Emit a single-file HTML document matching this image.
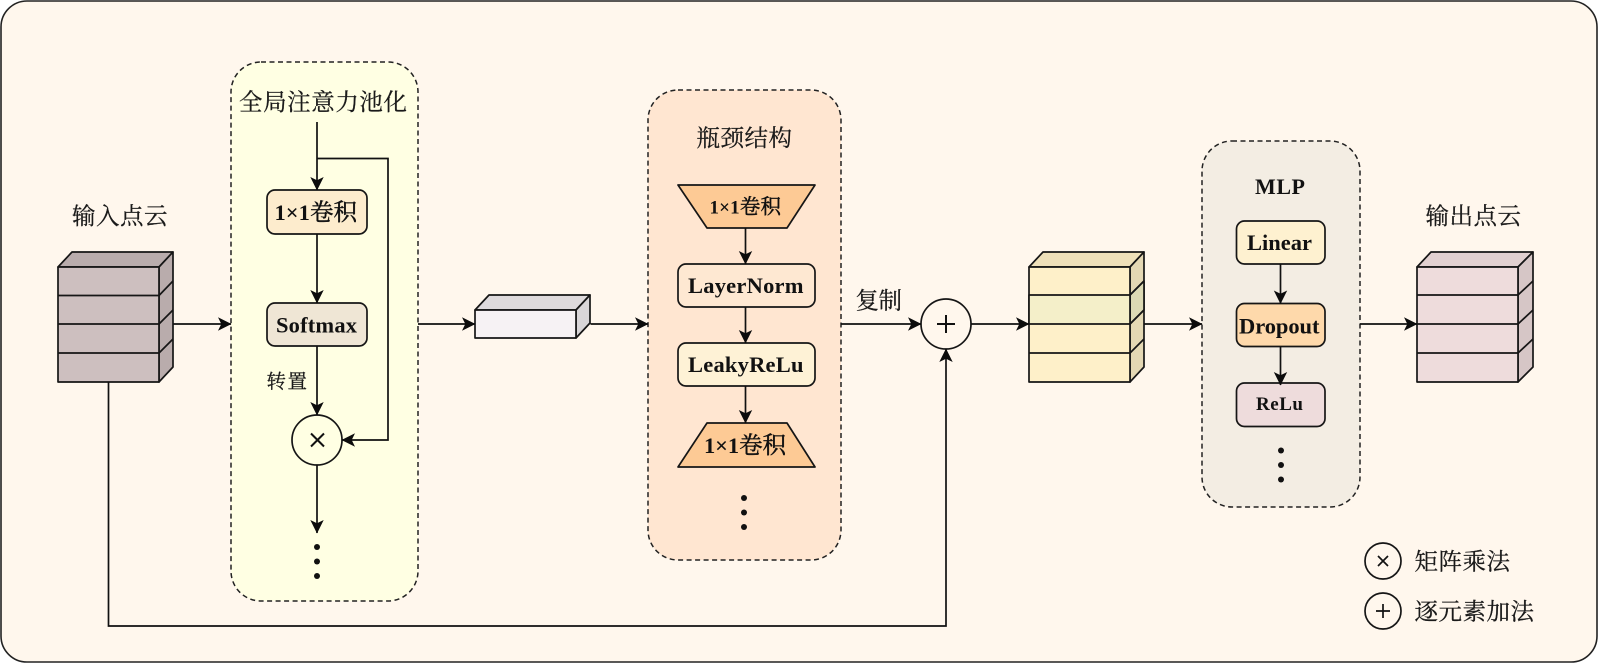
<!DOCTYPE html>
<html lang="zh">
<head>
<meta charset="utf-8">
<title>Diagram</title>
<style>
html,body{margin:0;padding:0;background:#fff;width:1598px;height:663px;overflow:hidden}
svg{display:block}
.l{fill:none;stroke:#111;stroke-width:1.7}
.a{fill:none;stroke:#111;stroke-width:1.7;marker-end:url(#ah)}
.s{stroke:#161616;stroke-width:1.7;stroke-linejoin:round}
.d{stroke:#222;stroke-width:1.5;stroke-dasharray:5 3.5}
.c{font-family:"Liberation Serif","Noto Serif CJK SC",serif;font-size:23.5px;fill:#1a1a1a;stroke:#1a1a1a;stroke-width:.25}
.b{font-family:"Liberation Serif","Noto Serif CJK SC",serif;font-size:22.5px;font-weight:bold;fill:#111}
.k{font-weight:normal;stroke:#111;stroke-width:.45;font-size:23.5px}
</style>
</head>
<body>
<svg width="1598" height="663" viewBox="0 0 1598 663" xmlns="http://www.w3.org/2000/svg">
<defs>
<marker id="ah" markerUnits="userSpaceOnUse" markerWidth="16" markerHeight="16" refX="14.500" refY="8" orient="auto">
<path d="M15,8 L1.500,1.300 L4.800,8 L1.500,14.700 Z" fill="#0c0c0c"/>
</marker>
</defs>

<rect x="1" y="1" width="1596" height="661" rx="26" fill="#fff7ed" stroke="#222" stroke-width="1.6"/>

<!-- dashed groups -->
<rect x="231" y="62" width="187" height="539" rx="30" fill="#ffffe3" class="d"/>
<rect x="648" y="90" width="193" height="470" rx="30" fill="#ffe6d1" class="d"/>
<rect x="1202" y="141" width="158" height="366" rx="30" fill="#f3ede3" class="d"/>

<!-- input cube -->
<g class="s">
<path d="M58,267 L72,252 L173,252 L159,267 Z" fill="#b9acac"/>
<path d="M159,267 L173,252 L173,367 L159,382 Z" fill="#b9acac"/>
<rect x="58" y="267" width="101" height="115" fill="#cdbfbf"/>
<path d="M58,295.500 H159 L173,281 M58,324 H159 L173,310 M58,353 H159 L173,339" fill="none"/>
</g>

<!-- small box -->
<g class="s">
<path d="M475,310 L489,295 L590,295 L576,310 Z" fill="#dedadc"/>
<path d="M576,310 L590,295 L590,323 L576,338 Z" fill="#d9d6d8"/>
<rect x="475" y="310" width="101" height="28" fill="#f6f2f4"/>
</g>

<!-- middle cube -->
<g class="s">
<path d="M1029,267 L1043,252 L1144,252 L1130,267 Z" fill="#eee0b9"/>
<path d="M1130,267 L1144,252 L1144,367 L1130,382 Z" fill="#e4d8b4"/>
<path d="M1130,295 L1144,281 L1144,310 L1130,324 Z" fill="#dcd9b4"/>
<rect x="1029" y="267" width="101" height="115" fill="#fef0c9"/>
<rect x="1029" y="295" width="101" height="29" fill="#f4efc9"/>
<path d="M1029,353 H1130 L1144,339 M1130,295 L1144,281 M1130,324 L1144,310" fill="none"/>
</g>

<!-- output cube -->
<g class="s">
<path d="M1417,267 L1431,252 L1533,252 L1518,267 Z" fill="#e1d0d0"/>
<path d="M1518,267 L1533,252 L1533,367 L1518,382 Z" fill="#d6c6c6"/>
<rect x="1417" y="267" width="101" height="115" fill="#eedcdc"/>
<path d="M1417,295 H1518 L1533,281 M1417,324 H1518 L1533,310 M1417,353 H1518 L1533,339" fill="none"/>
</g>

<!-- boxes -->
<g class="s">
<rect x="267" y="190" width="100" height="44" rx="8" fill="#fdeccd"/>
<rect x="267" y="303" width="100" height="43" rx="8" fill="#efe6d5"/>
<circle cx="317" cy="440" r="25" fill="#ffffe3"/>
<polygon points="678,185 815,185 787,228 707,228" fill="#fdca95"/>
<rect x="678" y="264" width="137" height="43" rx="8" fill="#fee8d2"/>
<rect x="678" y="343" width="137" height="43" rx="8" fill="#fef2d6"/>
<polygon points="707,423 787,423 815,467 678,467" fill="#fdca95"/>
<rect x="1236.500" y="221" width="88.500" height="43" rx="8" fill="#fef1d0"/>
<rect x="1236.500" y="303.500" width="88.500" height="43" rx="8" fill="#fed9ab"/>
<rect x="1236.500" y="383" width="88.500" height="43.500" rx="8" fill="#eedcdc"/>
<circle cx="946" cy="324" r="25" fill="#fff7ed"/>
<circle cx="1383" cy="561" r="18" fill="#fff7ed"/>
<circle cx="1383" cy="611" r="18" fill="#fff7ed"/>
</g>

<!-- operator glyphs -->
<path d="M311,433.500 L324,446.500 M324,433.500 L311,446.500" class="l" style="stroke-width:2"/>
<path d="M937,324 H955 M946,315 V333" class="l" style="stroke-width:2"/>
<path d="M1378,556 L1388,566 M1388,556 L1378,566" class="l"/>
<path d="M1376,611 H1390 M1383,604 V618" class="l"/>

<!-- connectors -->
<path d="M173.500,324 H231" class="a"/>
<path d="M418,324 H475" class="a"/>
<path d="M590.500,324 H648" class="a"/>
<path d="M841,324 H921" class="a"/>
<path d="M971,324 H1029" class="a"/>
<path d="M1144,324 H1202" class="a"/>
<path d="M1360,324 H1417" class="a"/>
<path d="M108.500,382 V626 H946 V349" class="a"/>
<path d="M317,122 V190" class="a"/>
<path d="M317,158.500 H388 V440 H342" class="a"/>
<path d="M317,234 V303" class="a"/>
<path d="M317,346 V415" class="a"/>
<path d="M317,465 V533" class="a"/>
<path d="M745.500,228 V264" class="a"/>
<path d="M745.500,307 V343" class="a"/>
<path d="M745.500,386 V423" class="a"/>
<path d="M1280.500,264 V303.500" class="a"/>
<path d="M1280.500,346.500 V385" class="a"/>

<!-- dots -->
<g fill="#111">
<circle cx="317" cy="547" r="3"/><circle cx="317" cy="561.500" r="3"/><circle cx="317" cy="576" r="3"/>
<circle cx="744" cy="498" r="3"/><circle cx="744" cy="512.500" r="3"/><circle cx="744" cy="527" r="3"/>
<circle cx="1281" cy="450.500" r="3"/><circle cx="1281" cy="465" r="3"/><circle cx="1281" cy="479.500" r="3"/>
</g>

<!-- labels -->
<text class="c" x="72" y="224" textLength="95.500">输入点云</text>
<text class="c" x="239" y="110" textLength="168">全局注意力池化</text>
<text class="c" x="696.500" y="146" textLength="95.500">瓶颈结构</text>
<text class="c" x="855.500" y="308.500" textLength="46.500">复制</text>
<text class="c" x="1425.500" y="224" textLength="95.500">输出点云</text>
<text class="c" x="266.500" y="388" textLength="40.500" style="font-size:19.500px">转置</text>
<text class="c" x="1414.500" y="569.500" textLength="95.500">矩阵乘法</text>
<text class="c" x="1414.500" y="619.500" textLength="119.500">逐元素加法</text>

<text class="b" x="274.500" y="220" textLength="82.500">1×1<tspan class="k">卷积</tspan></text>
<text class="b" x="276" y="332.500" textLength="81">Softmax</text>
<text class="b" x="709.500" y="213.500" textLength="71.500" style="font-size:19px">1×1<tspan class="k" style="font-size:20.500px">卷积</tspan></text>
<text class="b" x="688" y="293" textLength="115.500">LayerNorm</text>
<text class="b" x="688" y="372" textLength="115.500">LeakyReLu</text>
<text class="b" x="704" y="453" textLength="82">1×1<tspan class="k">卷积</tspan></text>
<text class="b" x="1255" y="194" textLength="50" style="font-size:22px">MLP</text>
<text class="b" x="1247" y="250" textLength="65">Linear</text>
<text class="b" x="1239" y="333.500" textLength="80.500">Dropout</text>
<text class="b" x="1256" y="410" textLength="47" style="font-size:19px">ReLu</text>
</svg>
</body>
</html>
